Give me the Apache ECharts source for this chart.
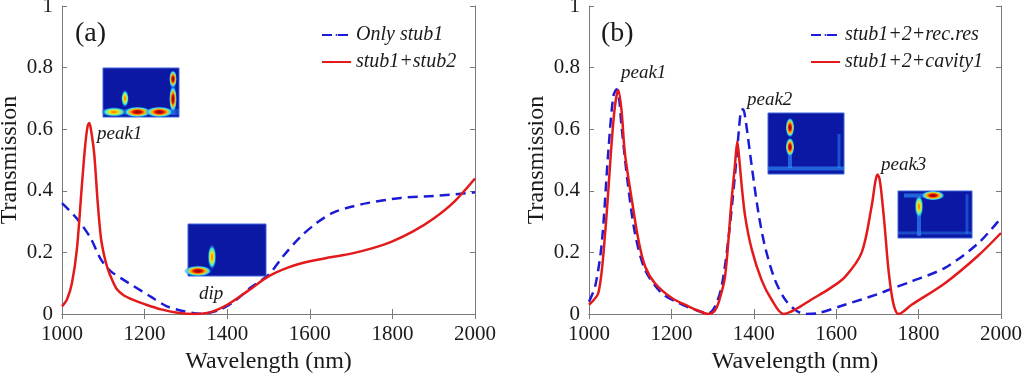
<!DOCTYPE html>
<html>
<head>
<meta charset="utf-8">
<script src="https://cdn.jsdelivr.net/npm/echarts@6/dist/echarts.min.js"></script>
<style>
  html, body { margin: 0; padding: 0; background: #fff; }
  #chart { width: 1024px; height: 377px; }
</style>
</head>
<body>
<div id="chart"></div>
<script>
// 刻度
const xTicks = [1000, 1200, 1400, 1600, 1800, 2000];
const yTicks = [0, 0.2, 0.4, 0.6, 0.8, 1];

// (a) Only stub1
const waveA1 = [1000, 1036, 1069, 1093, 1117, 1150, 1174, 1214, 1254, 1295, 1335, 1375, 1416, 1456, 1500, 1537, 1577, 1617, 1658, 1700, 1739, 1820, 1900, 2000];
const transA1 = [0.36, 0.31, 0.247, 0.18, 0.14, 0.11, 0.09, 0.057, 0.025, 0.009, 0.001, 0.01, 0.04, 0.085, 0.127, 0.19, 0.25, 0.296, 0.33, 0.348, 0.36, 0.377, 0.383, 0.395];

// (a) stub1+stub2
const waveA2 = [1000, 1012, 1024, 1036, 1048, 1056, 1062, 1066, 1070, 1078, 1086, 1094, 1102, 1110, 1120, 1133, 1150, 1174, 1200, 1240, 1280, 1320, 1360, 1400, 1450, 1500, 1550, 1600, 1650, 1700, 1750, 1800, 1850, 1900, 1950, 2000];
const transA2 = [0.025, 0.047, 0.1, 0.21, 0.415, 0.545, 0.61, 0.62, 0.6, 0.52, 0.37, 0.25, 0.19, 0.15, 0.115, 0.08, 0.06, 0.045, 0.032, 0.015, 0.004, 0.0, 0.006, 0.03, 0.075, 0.122, 0.152, 0.171, 0.184, 0.196, 0.213, 0.236, 0.268, 0.31, 0.365, 0.44];

// (b) stub1+2+rec.res
const waveB1 = [1000, 1015, 1031, 1047, 1059, 1067, 1073, 1079, 1095, 1112, 1136, 1176, 1217, 1257, 1290, 1306, 1322, 1338, 1354, 1364, 1369, 1374, 1379, 1395, 1411, 1427, 1451, 1476, 1500, 1524, 1557, 1621, 1702, 1727, 1783, 1864, 1945, 2000];
const transB1 = [0.04, 0.09, 0.23, 0.53, 0.707, 0.73, 0.7, 0.61, 0.415, 0.26, 0.144, 0.068, 0.036, 0.014, 0.002, 0.025, 0.09, 0.24, 0.447, 0.6, 0.66, 0.665, 0.64, 0.48, 0.33, 0.22, 0.112, 0.047, 0.014, 0.0, 0.003, 0.03, 0.065, 0.078, 0.106, 0.15, 0.23, 0.312];

// (b) stub1+2+cavity1
const waveB2 = [1000, 1023, 1039, 1055, 1063, 1071, 1079, 1087, 1104, 1120, 1136, 1160, 1201, 1241, 1270, 1290, 1305, 1314, 1330, 1346, 1354, 1360, 1365, 1370, 1379, 1395, 1419, 1443, 1472, 1500, 1540, 1581, 1621, 1662, 1686, 1695, 1700, 1705, 1710, 1718, 1726, 1735, 1743, 1751, 1783, 1864, 1945, 2000];
const transB2 = [0.03, 0.07, 0.26, 0.556, 0.675, 0.727, 0.66, 0.523, 0.37, 0.24, 0.155, 0.1, 0.052, 0.025, 0.008, 0.0, 0.01, 0.035, 0.12, 0.37, 0.48, 0.56, 0.5, 0.425, 0.317, 0.21, 0.11, 0.047, 0.0, 0.014, 0.047, 0.08, 0.12, 0.2, 0.35, 0.43, 0.453, 0.44, 0.39, 0.28, 0.155, 0.06, 0.014, 0.0, 0.03, 0.1, 0.19, 0.263];

const zip = (xs, ys) => xs.map((x, i) => [x, ys[i]]);

const FONT = 'Liberation Serif, serif';
const AXIS_GRAY = '#7a7a7a';
const BLUE = '#1c1cd6';
const RED = '#e31a1c';
const TEXT = '#1a1a1a';

// 坐标轴（带镜像的上/右边框）
function xAxes(gridIndex) {
    const base = {
        gridIndex, type: 'value', min: xTicks[0], max: xTicks[xTicks.length - 1], interval: 200,
        axisLine: { show: true, lineStyle: { color: AXIS_GRAY, width: 1 } },
        axisTick: { show: true, inside: true, length: 5, lineStyle: { color: AXIS_GRAY } },
        splitLine: { show: false }
    };
    return [
        Object.assign({}, base, {
            position: 'bottom',
            axisLabel: { fontFamily: FONT, fontSize: 21, color: TEXT, margin: 10, formatter: v => String(v) },
            name: 'Wavelength (nm)', nameLocation: 'middle', nameGap: 36,
            nameTextStyle: { fontFamily: FONT, fontSize: 24, color: TEXT }
        }),
        Object.assign({}, base, { position: 'top', axisLabel: { show: false } })
    ];
}
function yAxes(gridIndex) {
    const base = {
        gridIndex, type: 'value', min: yTicks[0], max: yTicks[yTicks.length - 1], interval: 0.2,
        axisLine: { show: true, lineStyle: { color: AXIS_GRAY, width: 1 } },
        axisTick: { show: true, inside: true, length: 5, lineStyle: { color: AXIS_GRAY } },
        splitLine: { show: false }
    };
    return [
        Object.assign({}, base, {
            position: 'left',
            axisLabel: { fontFamily: FONT, fontSize: 21, color: TEXT, margin: 9 },
            name: 'Transmission', nameLocation: 'middle', nameGap: 40,
            nameTextStyle: { fontFamily: FONT, fontSize: 24, color: TEXT }
        }),
        Object.assign({}, base, { position: 'right', axisLabel: { show: false } })
    ];
}

// 图例图标：虚线/实线
const DASH_ICON = 'path://M0,0H11V1H0Z M18,0H29V1H18Z';
const SOLID_ICON = 'path://M0,0H29V1H0Z';

function lineSeries(name, data, axisIdx, color, dashed) {
    return {
        name, type: 'line', data, xAxisIndex: axisIdx, yAxisIndex: axisIdx,
        symbol: 'none', smooth: 0.3, z: dashed ? 2 : 3,
        legendIcon: dashed ? DASH_ICON : SOLID_ICON,
        lineStyle: { color, width: 2.5, type: dashed ? [10, 6] : 'solid' },
        itemStyle: { color }
    };
}

// 场分布插图：jet 色图的近似
const HOT = [
    { offset: 0, color: '#7f0000' }, { offset: 0.3, color: '#e01000' },
    { offset: 0.55, color: '#ffc000' }, { offset: 0.78, color: '#30e0ff' },
    { offset: 1, color: 'rgba(20,60,220,0)' }
];
const WARM = [
    { offset: 0, color: '#ff6000' }, { offset: 0.35, color: '#ffe000' },
    { offset: 0.65, color: '#40f0e0' }, { offset: 1, color: 'rgba(20,60,220,0)' }
];
function blob(cx, cy, rx, ry, stops) {
    return {
        type: 'circle', x: cx, y: cy, scaleX: rx / 10, scaleY: ry / 10, silent: true,
        shape: { cx: 0, cy: 0, r: 10 },
        style: { fill: { type: 'radial', x: 0.5, y: 0.5, r: 0.5, colorStops: stops } }
    };
}
function frame(x, y, w, h) {
    return { type: 'rect', shape: { x, y, width: w, height: h }, silent: true,
        style: { fill: '#0b18a4', stroke: '#3d63dd', lineWidth: 1 } };
}
function stripe(x, y, w, h, alpha) {
    return { type: 'rect', shape: { x, y, width: w, height: h }, silent: true,
        style: { fill: 'rgba(50,150,255,' + alpha + ')' } };
}
function label(text, x, y, size, italic) {
    return { type: 'text', x, y, silent: true,
        style: { text, fill: TEXT, font: (italic ? 'italic ' : '') + size + 'px ' + FONT, verticalAlign: 'middle' } };
}

const insets = [
    // (a) peak1
    frame(103, 68, 76, 49),
    stripe(103, 109, 76, 6, 0.35),
    stripe(170.5, 72, 5, 43, 0.35),
    blob(114, 112, 13, 5, WARM),
    blob(137.5, 112, 14, 5.5, HOT),
    blob(159.5, 112, 14, 5.5, HOT),
    blob(173, 79, 4, 9, HOT),
    blob(173, 99, 4, 13, HOT),
    blob(125, 98.5, 4, 9, WARM),
    // (a) dip
    frame(188, 224, 78, 52),
    blob(198, 271, 14, 5.5, HOT),
    blob(212, 257, 4.5, 13, WARM),
    // (b) peak2
    frame(768, 113, 76, 61),
    stripe(768, 166.5, 76, 4, 0.6),
    stripe(788, 150, 4, 18, 0.6),
    stripe(837.5, 134, 3, 34, 0.45),
    blob(790, 127.5, 4.5, 10, HOT),
    blob(790, 147, 4.5, 9.5, HOT),
    // (b) peak3
    frame(898, 191, 74, 47),
    stripe(898, 231.5, 74, 3, 0.4),
    stripe(904, 193.5, 22, 4, 0.6),
    stripe(917, 214, 4, 22, 0.6),
    stripe(965.5, 194, 3, 40, 0.4),
    blob(933, 195.5, 12, 5, HOT),
    blob(919, 206.5, 4.5, 12, WARM)
];

const notes = [
    label('(a)', 75, 34, 28, false),
    label('(b)', 601, 34, 28, false),
    label('peak1', 97, 134, 19, true),
    label('dip', 199, 294, 19, true),
    label('peak1', 621, 73, 19, true),
    label('peak2', 747, 100, 19, true),
    label('peak3', 881, 165, 19, true)
];

const legendBase = {
    orient: 'vertical', itemWidth: 29, itemHeight: 2.5, itemGap: 7, padding: 0,
    textStyle: { fontFamily: FONT, fontSize: 20, fontStyle: 'italic', color: TEXT, lineHeight: 18 }
};

const chart = echarts.init(document.getElementById('chart'));
chart.setOption({
    animation: false,
    backgroundColor: '#fff',
    textStyle: { fontFamily: FONT },
    grid: [
        { left: 62, right: 549, top: 6, bottom: 63, outerBoundsMode: 'none' },
        { left: 589, right: 23, top: 6, bottom: 63, outerBoundsMode: 'none' }
    ],
    xAxis: [...xAxes(0), ...xAxes(1)],
    yAxis: [...yAxes(0), ...yAxes(1)],
    legend: [
        Object.assign({}, legendBase, { left: 321, top: 25, data: ['Only stub1', 'stub1+stub2'] }),
        Object.assign({}, legendBase, { left: 810, top: 25, data: ['stub1+2+rec.res', 'stub1+2+cavity1'] })
    ],
    series: [
        lineSeries('Only stub1', zip(waveA1, transA1), 0, BLUE, true),
        lineSeries('stub1+stub2', zip(waveA2, transA2), 0, RED, false),
        lineSeries('stub1+2+rec.res', zip(waveB1, transB1), 2, BLUE, true),
        lineSeries('stub1+2+cavity1', zip(waveB2, transB2), 2, RED, false)
    ],
    graphic: [...insets, ...notes]
});
</script>
</body>
</html>
